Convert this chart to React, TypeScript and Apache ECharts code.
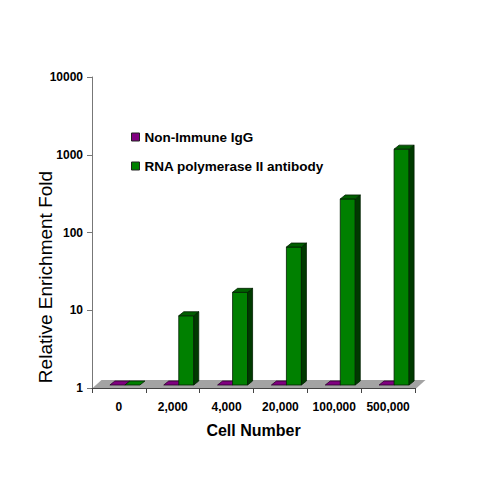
import React, { useEffect, useRef } from "react";
import * as echarts from "echarts";

const categories = ["0", "2,000", "4,000", "20,000", "100,000", "500,000"];
const iggValues = [1, 1, 1, 1, 1, 1];
const polIIValues = [1, 8.5, 17, 65, 270, 1180];
const seriesNames = ["Non-Immune IgG", "RNA polymerase II antibody"];
const yTicks = [1, 10, 100, 1000, 10000];
const yTitle = "Relative Enrichment Fold";
const xTitle = "Cell Number";

const FONT = "'Liberation Sans', Arial, sans-serif";
const DX = 5;
const DY = 4;
const BW = 15;

const palettes = [
  { front: "#800080", side: "#4a004a", top: "#6a006a", stroke: "#2a002a" },
  { front: "#008000", side: "#003a00", top: "#005f00", stroke: "#002000" },
];

function makeBarRender(s: number) {
  const pal = palettes[s];
  return (params: any, api: any) => {
    const cat = api.value(0);
    const v = api.value(1);
    const base = api.coord([cat, 1]);
    const topP = api.coord([cat, v]);
    const x0 = base[0] + (s === 0 ? -9 : 6);
    const yb = base[1] - 3;
    const yt = Math.min(topP[1], yb);
    const children: any[] = [];
    const st = { stroke: pal.stroke, lineWidth: 0.8 };
    if (yb - yt > 0.5) {
      children.push({
        type: "rect",
        shape: { x: x0, y: yt, width: BW, height: yb - yt },
        style: { fill: pal.front, ...st },
      });
      children.push({
        type: "polygon",
        shape: {
          points: [
            [x0 + BW, yt],
            [x0 + BW + DX, yt - DY],
            [x0 + BW + DX, yb - DY],
            [x0 + BW, yb],
          ],
        },
        style: { fill: pal.side, ...st },
      });
    }
    children.push({
      type: "polygon",
      shape: {
        points: [
          [x0, yt],
          [x0 + BW, yt],
          [x0 + BW + DX, yt - DY],
          [x0 + DX, yt - DY],
        ],
      },
      style: { fill: yb - yt > 0.5 ? pal.top : pal.front, ...st },
    });
    return { type: "group", children };
  };
}

function floorRender(params: any, api: any) {
  const cat = api.value(0);
  const c = api.coord([cat, 1]);
  const band = api.size([1, 0])[0];
  const l = c[0] - band / 2 - 0.5;
  const r = c[0] + band / 2 + 0.5;
  const yb = c[1] + 1;
  const yt = c[1] - 8;
  return {
    type: "polygon",
    shape: {
      points: [
        [l, yb],
        [r, yb],
        [r + 10, yt],
        [l + 10, yt],
      ],
    },
    style: { fill: "#a3a3a3" },
  };
}

export default function App() {
  const ref = useRef<HTMLDivElement>(null);
  useEffect(() => {
    if (!ref.current) return;
    const chart = echarts.init(ref.current, null, { renderer: "svg" });
    chart.setOption({
      animation: false,
      backgroundColor: "#ffffff",
      grid: { left: 92, right: 85, top: 77, bottom: 112 },
      legend: {
        orient: "vertical",
        left: 126,
        top: 125,
        itemWidth: 8,
        itemHeight: 8,
        itemGap: 15,
        icon: "rect",
        textStyle: { fontFamily: FONT, fontWeight: "bold", fontSize: 13.5, color: "#000" },
        data: [
          { name: seriesNames[0], itemStyle: { color: "#800080", borderColor: "#222", borderWidth: 1 } },
          { name: seriesNames[1], itemStyle: { color: "#008000", borderColor: "#222", borderWidth: 1 } },
        ],
      },
      graphic: [
        {
          type: "text",
          x: 45,
          y: 277,
          rotation: Math.PI / 2,
          style: {
            text: yTitle,
            fontFamily: FONT,
            fontSize: 19,
            fill: "#000",
            textAlign: "center",
            textVerticalAlign: "middle",
          },
        },
      ],
      xAxis: {
        type: "category",
        data: categories,
        boundaryGap: true,
        axisLine: { show: true, lineStyle: { color: "#444", width: 1 } },
        axisTick: { show: true, length: 5, lineStyle: { color: "#444" } },
        axisLabel: { interval: 0, fontFamily: FONT, fontWeight: "bold", fontSize: 12, color: "#000", margin: 13 },
        name: xTitle,
        nameLocation: "middle",
        nameGap: 34,
        nameTextStyle: { fontFamily: FONT, fontWeight: "bold", fontSize: 16, color: "#000" },
        z: 1,
      },
      yAxis: {
        type: "log",
        logBase: 10,
        min: yTicks[0],
        max: yTicks[yTicks.length - 1],
        axisLine: { show: true, lineStyle: { color: "#777", width: 1 } },
        axisTick: { show: true, length: 5, lineStyle: { color: "#777" } },
        splitLine: { show: false },
        minorTick: { show: false },
        axisLabel: {
          fontFamily: FONT,
          fontWeight: "bold",
          fontSize: 12,
          color: "#000",
          margin: 9,
          formatter: (v: number) => String(Math.round(v)),
        },
      },
      series: [
        {
          type: "custom",
          name: "floor",
          clip: false,
          silent: true,
          renderItem: floorRender,
          encode: { x: 0, y: 1 },
          data: categories.map((_, i) => [i, 1]),
          z: 1,
        },
        {
          type: "custom",
          name: seriesNames[0],
          clip: false,
          renderItem: makeBarRender(0),
          encode: { x: 0, y: 1 },
          itemStyle: { color: "#800080" },
          data: iggValues.map((v, i) => [i, v]),
          z: 3,
        },
        {
          type: "custom",
          name: seriesNames[1],
          clip: false,
          renderItem: makeBarRender(1),
          encode: { x: 0, y: 1 },
          itemStyle: { color: "#008000" },
          data: polIIValues.map((v, i) => [i, v]),
          z: 3,
        },
      ],
    });
    return () => chart.dispose();
  }, []);
  return (
    <div
      ref={ref}
      style={{ position: "absolute", left: 0, top: 0, width: 500, height: 500 }}
    />
  );
}
